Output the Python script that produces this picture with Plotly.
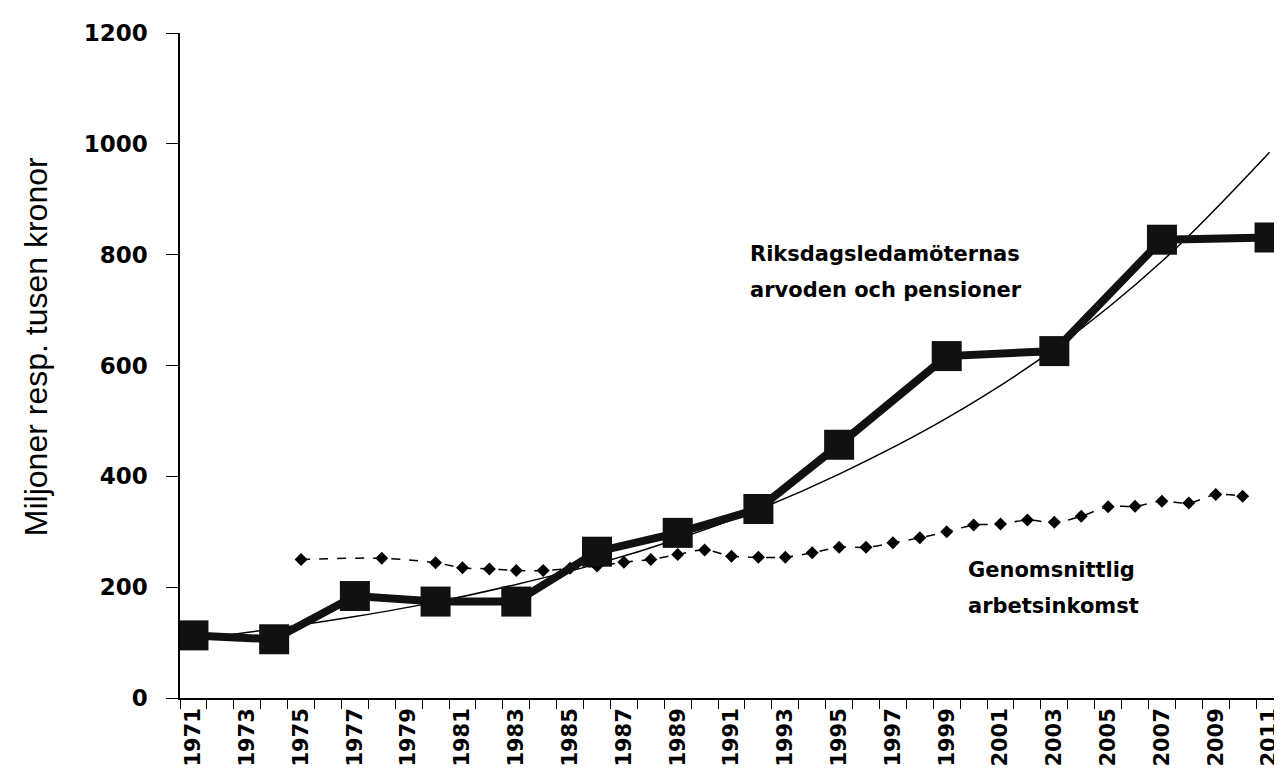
import plotly.graph_objects as go

# Riksdagsledamöternas arvoden och pensioner (miljoner kronor)
riks_years = [1971, 1974, 1977, 1980, 1983, 1986, 1989, 1992, 1995, 1999, 2003, 2007, 2011]
riks_values = [113, 106, 184, 174, 174, 264, 298, 341, 457, 617, 626, 827, 831]

# Trend line
trend_years = [1971, 1974, 1977, 1980, 1983, 1986, 1989, 1992, 1995, 1999, 2003, 2007, 2011]
trend_values = [106, 125, 147, 173, 205, 242, 287, 340, 404, 505, 630, 788, 985]

# Genomsnittlig arbetsinkomst (tusen kronor)
inc_years = [1975, 1978, 1980, 1981, 1982, 1983, 1984, 1985, 1986, 1987, 1988, 1989,
             1990, 1991, 1992, 1993, 1994, 1995, 1996, 1997, 1998, 1999, 2000, 2001,
             2002, 2003, 2004, 2005, 2006, 2007, 2008, 2009, 2010]
inc_values = [250, 252, 244, 235, 233, 230, 230, 234, 238, 245, 250, 259,
              267, 256, 254, 254, 262, 272, 272, 280, 289, 300, 312, 314,
              321, 317, 328, 345, 346, 355, 352, 367, 364]

tick_years = list(range(1971, 2012, 2))
tick_labels = [str(y) for y in tick_years]

fig = go.Figure()

fig.add_trace(go.Scatter(
    x=inc_years, y=inc_values, mode="lines+markers",
    line=dict(color="black", width=1.5, dash="dash", shape="spline"),
    marker=dict(symbol="diamond", size=10, color="black"),
    showlegend=False))

fig.add_trace(go.Scatter(
    x=trend_years, y=trend_values, mode="lines",
    line=dict(color="black", width=1.5, shape="spline"),
    showlegend=False))

fig.add_trace(go.Scatter(
    x=riks_years, y=riks_values, mode="lines+markers",
    line=dict(color="#111111", width=8),
    marker=dict(symbol="square", size=30, color="#111111"),
    showlegend=False))

ytickfont = dict(family="DejaVu Sans", size=23, color="black", weight="bold")
xtickfont = dict(family="DejaVu Sans", size=21, color="black", weight="bold")
annfont = dict(family="DejaVu Sans", size=21, color="black", weight="bold")

fig.update_layout(
    width=1282, height=769,
    margin=dict(l=172, r=7, t=25, b=79),
    paper_bgcolor="white", plot_bgcolor="white",
    showlegend=False,
    xaxis=dict(
        range=[1970.5, 2011.5],
        tickmode="array", tickvals=tick_years, ticktext=tick_labels,
        tickangle=-90, tickfont=xtickfont, ticks="",
        showline=True, linecolor="black", linewidth=1.5,
        showgrid=False, zeroline=False,
        minor=dict(tick0=1970.5, dtick=1, ticks="outside", ticklen=9,
                   tickcolor="black", tickwidth=1.2, showgrid=False),
    ),
    yaxis=dict(
        range=[0, 1200], tickmode="linear", tick0=0, dtick=200,
        ticks="outside", ticklen=12, tickcolor="black", tickwidth=1.2,
        tickfont=ytickfont, ticklabelstandoff=14,
        showline=True, linecolor="black", linewidth=1.5,
        showgrid=False, zeroline=False,
    ),
    annotations=[
        dict(text="Miljoner resp. tusen kronor", xref="paper", yref="paper",
             x=-0.1306, y=0.529, xanchor="center", yanchor="middle",
             textangle=-90, showarrow=False,
             font=dict(family="Liberation Sans", size=32, color="black")),
        dict(text="Riksdagsledamöternas", xref="x", yref="y",
             x=1991.6, y=801, xanchor="left", yanchor="middle", showarrow=False,
             font=annfont),
        dict(text="arvoden och pensioner", xref="x", yref="y",
             x=1991.6, y=736, xanchor="left", yanchor="middle", showarrow=False,
             font=annfont),
        dict(text="Genomsnittlig", xref="x", yref="y",
             x=1999.7, y=231, xanchor="left", yanchor="middle", showarrow=False,
             font=annfont),
        dict(text="arbetsinkomst", xref="x", yref="y",
             x=1999.7, y=166, xanchor="left", yanchor="middle", showarrow=False,
             font=annfont),
    ],
)

fig.write_html("out.html")
